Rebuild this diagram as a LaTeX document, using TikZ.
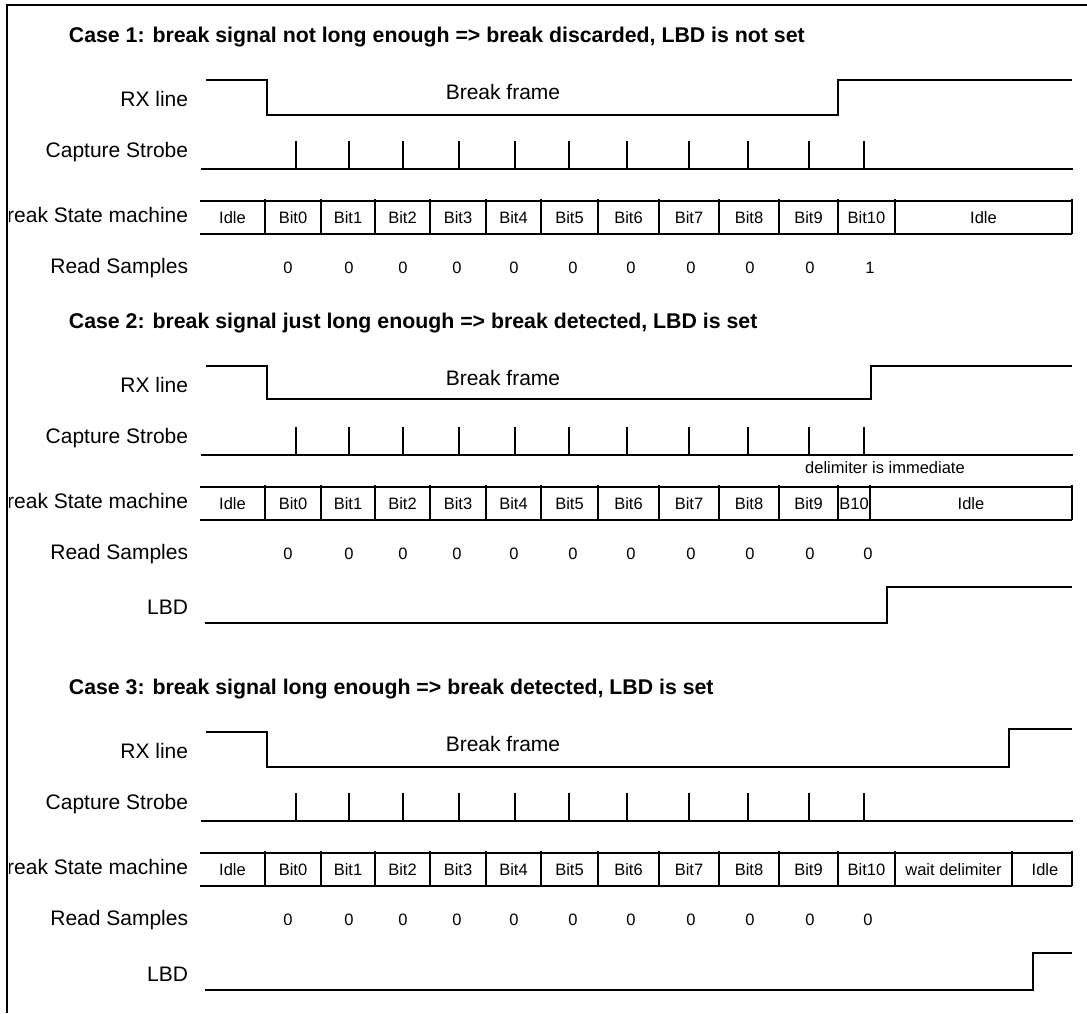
\documentclass[tikz,border=0pt]{standalone}
\usepackage{fontspec}
\setmainfont{Liberation Sans}
\begin{document}
\begin{tikzpicture}[x=1pt,y=-1pt,line width=1.8pt,
  lbl/.style={anchor=east,inner sep=0pt,font=\fontsize{21}{21}\selectfont},
  ttl/.style={anchor=west,inner sep=0pt,font=\fontsize{21.3}{21.3}\selectfont\bfseries},
  cell/.style={inner sep=0pt,font=\fontsize{16.5}{16.5}\selectfont},
  smp/.style={inner sep=0pt,font=\fontsize{16.5}{16.5}\selectfont}]
\useasboundingbox (0,0) rectangle (1087,1013);
\fill[white] (0,0) rectangle (1087,1013);
% frame
\draw (7,1013) -- (7,5) -- (1087,5);
% common pieces for every case
\foreach \dy/\ttext in {0/{Case 1: break signal not long enough => break discarded, LBD is not set},
                        286/{Case 2: break signal just long enough => break detected, LBD is set},
                        652/{Case 3: break signal long enough => break detected, LBD is set}}{
 \begin{scope}[shift={(0,\dy)}]
  \node[ttl] (title) at (68,37) {\ttext};
  \node[lbl] (lrx) at (189,99) {RX line};
  \node[lbl] (lcs) at (189,152) {Capture Strobe};
  \begin{scope}
   \clip (9,180) rectangle (195,250);
   \node[lbl] (lsm) at (189,215) {Break State machine};
  \end{scope}
  \node[lbl] (lrs) at (189,268) {Read Samples};
  \node[font=\fontsize{21}{21}\selectfont,inner sep=0pt] (bf) at (503,92) {Break frame};
  \draw (201,169) -- (1073,169);
  \foreach \x in {296,349,403,459,515,569,627,689,748,809,864} \draw (\x,141) -- (\x,169);
  \draw (200,201) -- (1072,201) (200,234) -- (1072,234);
  \foreach \x in {288,349,403,457,514,573,631,691,750,810} \node[smp] at (\x,268) {0};
 \end{scope}}
% case 1
\draw (206,80) -- (267,80) -- (267,115) -- (838,115) -- (838,80) -- (1072,80);
\foreach \a/\b/\t in {200/265/Idle,265/321/Bit0,321/375/Bit1,375/430/Bit2,430/486/Bit3,486/541/Bit4,541/598/Bit5,598/659/Bit6,659/719/Bit7,719/779/Bit8,779/838/Bit9,838/895/Bit10,895/1072/Idle}{
  \draw (\b,199) -- (\b,234);
  \node[cell] at ({(\a+\b)/2},218) {\t};}
\node[smp] at (870,268) {1};
% case 2
\begin{scope}[shift={(0,286)}]
\draw (206,80) -- (267,80) -- (267,113) -- (871,113) -- (871,80) -- (1072,80);
\foreach \a/\b/\t in {200/265/Idle,265/321/Bit0,321/375/Bit1,375/430/Bit2,430/486/Bit3,486/541/Bit4,541/598/Bit5,598/659/Bit6,659/719/Bit7,719/779/Bit8,779/838/Bit9,838/870/B10,870/1072/Idle}{
  \draw (\b,199) -- (\b,234);
  \node[cell] at ({(\a+\b)/2},218) {\t};}
\node[cell] (delim) at (885,182) {delimiter is immediate};
\node[smp] at (868,268) {0};
\node[lbl] (llbd) at (189,321) {LBD};
\draw (205,337) -- (887,337) -- (887,301) -- (1072,301);
\end{scope}
% case 3
\begin{scope}[shift={(0,652)}]
\draw (206,80) -- (267,80) -- (267,115) -- (1009,115) -- (1009,77) -- (1072,77);
\foreach \a/\b/\t in {200/265/Idle,265/321/Bit0,321/375/Bit1,375/430/Bit2,430/486/Bit3,486/541/Bit4,541/598/Bit5,598/659/Bit6,659/719/Bit7,719/779/Bit8,779/838/Bit9,838/895/Bit10,895/1012/wait delimiter,1012/1072/}{
  \draw (\b,199) -- (\b,234);
  \node[cell] at ({(\a+\b)/2},218) {\t};}
\node[cell] at (1045,218) {Idle};
\node[smp] at (868,268) {0};
\node[lbl] (llbd3) at (189,322) {LBD};
\draw (205,338) -- (1033,338) -- (1033,301) -- (1072,301);
\end{scope}
\end{tikzpicture}
\end{document}
